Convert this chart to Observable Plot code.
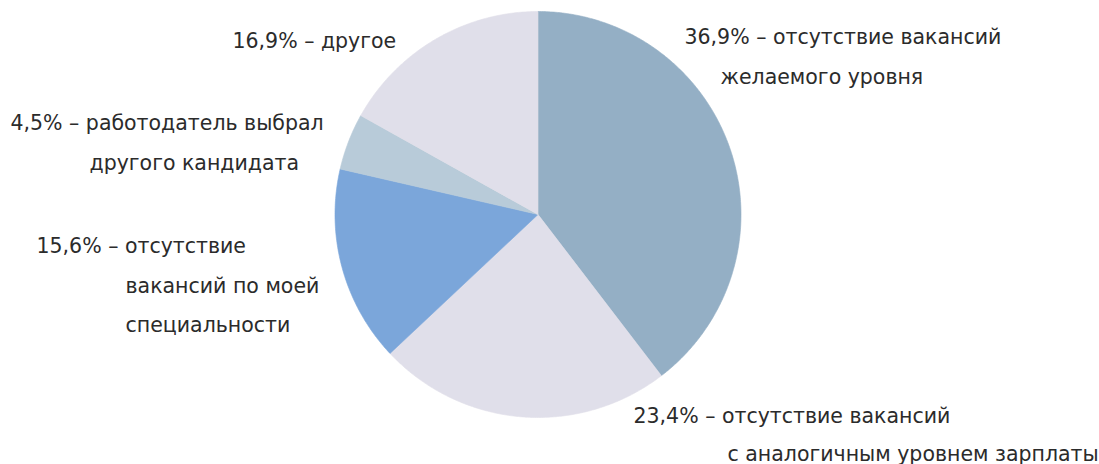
<!DOCTYPE html>
<html>
<head>
<meta charset="utf-8">
<script src="https://cdn.jsdelivr.net/npm/d3@7"></script>
<script src="https://cdn.jsdelivr.net/npm/@observablehq/plot@0.6"></script>
<style>
  html, body { margin: 0; padding: 0; background: #fff; }
  #chart svg { display: block; }
</style>
</head>
<body>
<div id="chart"></div>
<script>
// ---- data ----
const shares = [36.9, 23.4, 15.6, 4.5, 16.9];
const labelLines = [
  ["36,9% – отсутствие вакансий", "желаемого уровня"],
  ["23,4% – отсутствие вакансий", "с аналогичным уровнем зарплаты"],
  ["15,6% – отсутствие", "вакансий по моей", "специальности"],
  ["4,5% – работодатель выбрал", "другого кандидата"],
  ["16,9% – другое"]
];
const colors = ["#94afc5", "#e0dfea", "#7ba6da", "#b8cbd9", "#e0dfea"];

// The picture fills the remainder to 100 % with the colour of the first slice
const remainder = 100 - d3.sum(shares);

// ---- layout ----
const W = 1099, H = 464;
const cx = 537.5, cy = 214, R = 203;

const slices = shares.map((v, i) => ({i, value: i === 0 ? v + remainder : v, color: colors[i]}));
let acc = 0;
const pts = [];
for (const s of slices) {
  const a0 = acc / 100 * 2 * Math.PI;
  acc += s.value;
  const a1 = acc / 100 * 2 * Math.PI;
  pts.push({i: s.i, color: s.color, x: cx, y: cy});
  const n = Math.max(2, Math.ceil((a1 - a0) / (Math.PI / 360)));
  for (let k = 0; k <= n; k++) {
    const a = a0 + (a1 - a0) * k / n;
    pts.push({i: s.i, color: s.color, x: cx + R * Math.sin(a), y: cy - R * Math.cos(a)});
  }
  pts.push({i: s.i, color: s.color, x: cx, y: cy});
}

// label placement (left x, baseline y of each line)
const labelPos = [
  [[684, 43], [720, 83]],
  [[633, 422], [727, 460]],
  [[36, 252], [125, 292], [125, 331]],
  [[10, 129], [89, 169]],
  [[232, 47]]
];
const texts = [];
labelLines.forEach((lines, i) => lines.forEach((t, j) => texts.push({t, x: labelPos[i][j][0], y: labelPos[i][j][1]})));

const chart = Plot.plot({
  width: W, height: H,
  margin: 0,
  x: {type: "identity", axis: null},
  y: {type: "identity", axis: null},
  style: {fontFamily: "'DejaVu Sans', sans-serif", background: "#fff"},
  marks: [
    Plot.line(pts, {x: "x", y: "y", z: "i", fill: "color", stroke: "color", strokeWidth: 0.6, curve: "linear"}),
    Plot.text(texts, {x: "x", y: "y", text: "t", textAnchor: "start", lineAnchor: "bottom", fontSize: 20.5, fill: "#2b2b2b"})
  ]
});
document.getElementById("chart").append(chart);
</script>
</body>
</html>
